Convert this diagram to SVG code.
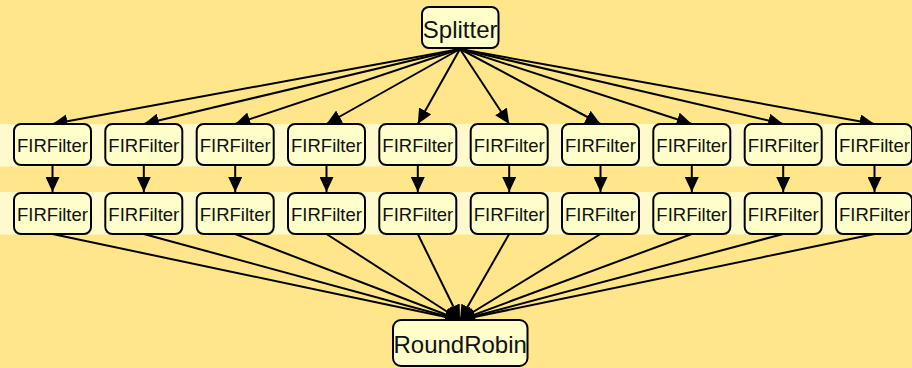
<svg xmlns="http://www.w3.org/2000/svg" width="912" height="368" viewBox="0 0 912 368">
  <style>
    .node rect { fill: #FFFFCC; stroke: #000; stroke-width: 2; }
    .node text { font-family: "Liberation Sans", Arial, sans-serif; fill: #111; text-anchor: middle; }
    .small text { font-size: 18.5px; }
    .big text { font-size: 24px; }
    .edges line { stroke: #000; stroke-width: 2; }
    .band { fill: #FFFACD; }
  </style>
  <defs>
    <marker id="arrow" markerUnits="userSpaceOnUse" markerWidth="16" markerHeight="14" refX="15" refY="7" orient="auto">
      <path d="M0,0 L15,7 L0,14 Z" fill="#000"/>
    </marker>
  </defs>

  <!-- background and row bands -->
  <rect x="0" y="0" width="912" height="368" fill="#FFE68A"/>
  <rect class="band" x="0" y="124" width="912" height="42.5"/>
  <rect class="band" x="0" y="192" width="912" height="42.5"/>

  <!-- connectors -->
  <g id="edges" class="edges" marker-end="url(#arrow)">
    <line x1="460" y1="49" x2="52.5" y2="124" marker-end="url(#arrow)"/>
    <line x1="460" y1="49" x2="143.8" y2="124" marker-end="url(#arrow)"/>
    <line x1="460" y1="49" x2="235.2" y2="124" marker-end="url(#arrow)"/>
    <line x1="460" y1="49" x2="326.5" y2="124" marker-end="url(#arrow)"/>
    <line x1="460" y1="49" x2="417.8" y2="124" marker-end="url(#arrow)"/>
    <line x1="460" y1="49" x2="509.2" y2="124" marker-end="url(#arrow)"/>
    <line x1="460" y1="49" x2="600.5" y2="124" marker-end="url(#arrow)"/>
    <line x1="460" y1="49" x2="691.8" y2="124" marker-end="url(#arrow)"/>
    <line x1="460" y1="49" x2="783.2" y2="124" marker-end="url(#arrow)"/>
    <line x1="460" y1="49" x2="874.5" y2="124" marker-end="url(#arrow)"/>

    <line x1="52.5" y1="166" x2="52.5" y2="192" marker-end="url(#arrow)"/>
    <line x1="143.8" y1="166" x2="143.8" y2="192" marker-end="url(#arrow)"/>
    <line x1="235.2" y1="166" x2="235.2" y2="192" marker-end="url(#arrow)"/>
    <line x1="326.5" y1="166" x2="326.5" y2="192" marker-end="url(#arrow)"/>
    <line x1="417.8" y1="166" x2="417.8" y2="192" marker-end="url(#arrow)"/>
    <line x1="509.2" y1="166" x2="509.2" y2="192" marker-end="url(#arrow)"/>
    <line x1="600.5" y1="166" x2="600.5" y2="192" marker-end="url(#arrow)"/>
    <line x1="691.8" y1="166" x2="691.8" y2="192" marker-end="url(#arrow)"/>
    <line x1="783.2" y1="166" x2="783.2" y2="192" marker-end="url(#arrow)"/>
    <line x1="874.5" y1="166" x2="874.5" y2="192" marker-end="url(#arrow)"/>

    <line x1="52.5" y1="234" x2="460" y2="320" marker-end="url(#arrow)"/>
    <line x1="143.8" y1="234" x2="460" y2="320" marker-end="url(#arrow)"/>
    <line x1="235.2" y1="234" x2="460" y2="320" marker-end="url(#arrow)"/>
    <line x1="326.5" y1="234" x2="460" y2="320" marker-end="url(#arrow)"/>
    <line x1="417.8" y1="234" x2="460" y2="320" marker-end="url(#arrow)"/>
    <line x1="509.2" y1="234" x2="460" y2="320" marker-end="url(#arrow)"/>
    <line x1="600.5" y1="234" x2="460" y2="320" marker-end="url(#arrow)"/>
    <line x1="691.8" y1="234" x2="460" y2="320" marker-end="url(#arrow)"/>
    <line x1="783.2" y1="234" x2="460" y2="320" marker-end="url(#arrow)"/>
    <line x1="874.5" y1="234" x2="460" y2="320" marker-end="url(#arrow)"/>
  </g>

  <!-- source -->
  <g id="splitter" class="node big">
    <rect x="422" y="7" width="76.5" height="41" rx="7"/>
    <text x="460.2" y="37.5">Splitter</text>
  </g>

  <!-- first filter stage -->
  <g id="fir1_0" class="node small"><rect x="14" y="124" width="77" height="41" rx="7"/><text x="52.5" y="151.5">FIRFilter</text></g>
  <g id="fir1_1" class="node small"><rect x="105.3" y="124" width="77" height="41" rx="7"/><text x="143.8" y="151.5">FIRFilter</text></g>
  <g id="fir1_2" class="node small"><rect x="196.7" y="124" width="77" height="41" rx="7"/><text x="235.2" y="151.5">FIRFilter</text></g>
  <g id="fir1_3" class="node small"><rect x="288" y="124" width="77" height="41" rx="7"/><text x="326.5" y="151.5">FIRFilter</text></g>
  <g id="fir1_4" class="node small"><rect x="379.3" y="124" width="77" height="41" rx="7"/><text x="417.8" y="151.5">FIRFilter</text></g>
  <g id="fir1_5" class="node small"><rect x="470.7" y="124" width="77" height="41" rx="7"/><text x="509.2" y="151.5">FIRFilter</text></g>
  <g id="fir1_6" class="node small"><rect x="562" y="124" width="77" height="41" rx="7"/><text x="600.5" y="151.5">FIRFilter</text></g>
  <g id="fir1_7" class="node small"><rect x="653.3" y="124" width="77" height="41" rx="7"/><text x="691.8" y="151.5">FIRFilter</text></g>
  <g id="fir1_8" class="node small"><rect x="744.7" y="124" width="77" height="41" rx="7"/><text x="783.2" y="151.5">FIRFilter</text></g>
  <g id="fir1_9" class="node small"><rect x="836" y="124" width="76" height="41" rx="7"/><text x="874.5" y="151.5">FIRFilter</text></g>

  <!-- second filter stage -->
  <g id="fir2_0" class="node small"><rect x="14" y="193" width="77" height="41" rx="7"/><text x="52.5" y="220.5">FIRFilter</text></g>
  <g id="fir2_1" class="node small"><rect x="105.3" y="193" width="77" height="41" rx="7"/><text x="143.8" y="220.5">FIRFilter</text></g>
  <g id="fir2_2" class="node small"><rect x="196.7" y="193" width="77" height="41" rx="7"/><text x="235.2" y="220.5">FIRFilter</text></g>
  <g id="fir2_3" class="node small"><rect x="288" y="193" width="77" height="41" rx="7"/><text x="326.5" y="220.5">FIRFilter</text></g>
  <g id="fir2_4" class="node small"><rect x="379.3" y="193" width="77" height="41" rx="7"/><text x="417.8" y="220.5">FIRFilter</text></g>
  <g id="fir2_5" class="node small"><rect x="470.7" y="193" width="77" height="41" rx="7"/><text x="509.2" y="220.5">FIRFilter</text></g>
  <g id="fir2_6" class="node small"><rect x="562" y="193" width="77" height="41" rx="7"/><text x="600.5" y="220.5">FIRFilter</text></g>
  <g id="fir2_7" class="node small"><rect x="653.3" y="193" width="77" height="41" rx="7"/><text x="691.8" y="220.5">FIRFilter</text></g>
  <g id="fir2_8" class="node small"><rect x="744.7" y="193" width="77" height="41" rx="7"/><text x="783.2" y="220.5">FIRFilter</text></g>
  <g id="fir2_9" class="node small"><rect x="836" y="193" width="76" height="41" rx="7"/><text x="874.5" y="220.5">FIRFilter</text></g>

  <!-- joiner -->
  <g id="roundrobin" class="node big">
    <rect x="393" y="320" width="134.5" height="46" rx="8"/>
    <text x="460.2" y="353">RoundRobin</text>
  </g>
</svg>
